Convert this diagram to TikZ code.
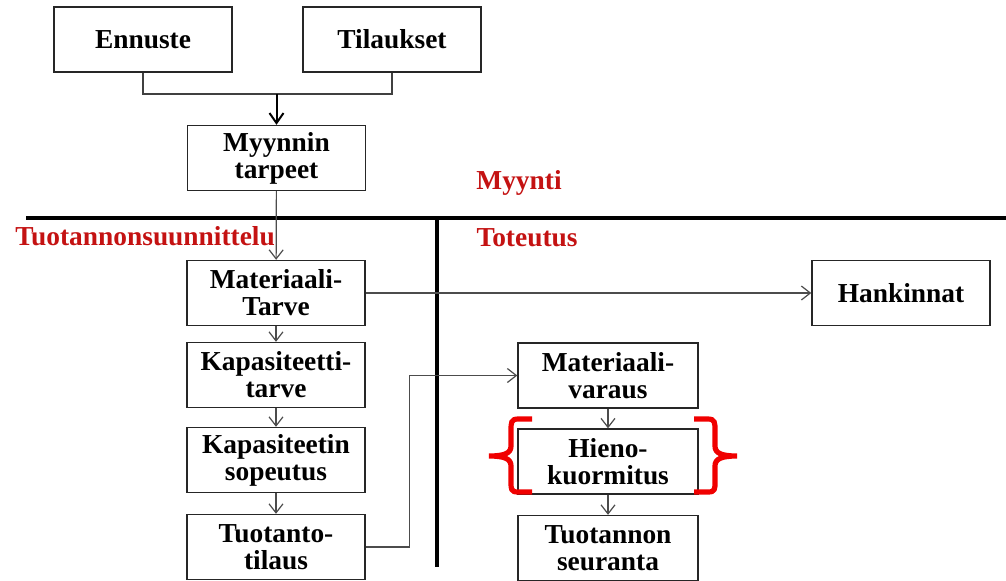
\documentclass[tikz,border=0pt]{standalone}
\usepackage{fontspec}
\setmainfont{Liberation Serif}
\usepackage{xcolor}
\usepackage{tikz}
\usetikzlibrary{shapes,arrows.meta,positioning,calc}

\definecolor{areared}{RGB}{196,18,18}
\definecolor{bracered}{RGB}{240,0,0}

\begin{document}
\begin{tikzpicture}[
    x=0.5pt, y=-0.5pt,
    box/.style={rectangle, draw=black!85, line width=0.7pt, minimum width=89pt, minimum height=32.5pt, inner sep=0pt, align=center, font=\fontsize{13.7}{13.5}\selectfont\bfseries},
    arrow/.style={-{Straight Barb[length=4.5pt,width=7pt]}, draw=black!70, line width=0.6pt},
    area/.style={inner sep=0pt, text=areared, font=\fontsize{13.7}{14}\selectfont\bfseries},
    divider/.style={line width=2pt},
    brace/.style={draw=bracered, line width=2.6pt}
]
    \useasboundingbox (0,0) rectangle (1006,580);

    % sales
    \node[box] (ennuste) at (143,39.5) {Ennuste};
    \node[box] (tilaukset) at (392,39.5) {Tilaukset};
    \node[box] (myynnin) at (276.5,158) {Myynnin\\tarpeet};
    \coordinate (join) at (276.5,94);

    % planning
    \node[box] (mattarve) at (276,293) {Materiaali-\\Tarve};
    \node[box] (kaptarve) at (276,375) {Kapasiteetti-\\tarve};
    \node[box] (sopeutus) at (276,460) {Kapasiteetin\\sopeutus};
    \node[box] (tilaus) at (276,547) {Tuotanto-\\tilaus};

    % execution
    \node[box] (hankinnat) at (901,293) {Hankinnat};
    \node[box, minimum width=90pt] (varaus) at (608,375.5) {Materiaali-\\varaus};
    \node[box, minimum width=90pt] (hieno) at (608,461.5) {Hieno-\\kuormitus};
    \node[box, minimum width=90pt] (seuranta) at (608,548) {Tuotannon\\seuranta};

    \node[area] (myynti) at (519,183) {Myynti};
    \node[area, anchor=west] (suunnittelu) at (15,236) {Tuotannonsuunnittelu};
    \node[area] (toteutus) at (527,238) {Toteutus};

    \draw[divider] (26,218) -- (1006,218);
    \draw[divider] (437,218) -- (437,567);

    \draw[draw=black!75, line width=0.7pt] (ennuste.south) |- (join) -| (tilaukset.south);
    \draw[-{Straight Barb[length=5pt,width=7pt]}, line width=1pt] (join) -- (myynnin.north);

    \draw[arrow] (myynnin) -- (mattarve);
    \draw[arrow] (mattarve) -- (hankinnat);
    \draw[arrow] (mattarve) -- (kaptarve);
    \draw[arrow] (kaptarve) -- (sopeutus);
    \draw[arrow] (sopeutus) -- (tilaus);
    \draw[arrow] (tilaus.east) -- ++(44,0) |- (varaus.west);
    \draw[arrow] (varaus) -- (hieno);
    \draw[arrow] (hieno) -- (seuranta);

    % braces round the fine loading
    \draw[brace] (532,419) -- (518,419) .. controls (511,419) and (511,423) .. (511,430) -- (511,446) .. controls (511,453) and (505,456) .. (489,456) .. controls (505,456) and (511,459) .. (511,466) -- (511,482) .. controls (511,489) and (511,492) .. (518,492) -- (532,492);
    \draw[brace] (694,419) -- (708,419) .. controls (715,419) and (715,423) .. (715,430) -- (715,446) .. controls (715,453) and (721,456) .. (737,456) .. controls (721,456) and (715,459) .. (715,466) -- (715,482) .. controls (715,489) and (715,492) .. (708,492) -- (694,492);
\end{tikzpicture}
\end{document}
